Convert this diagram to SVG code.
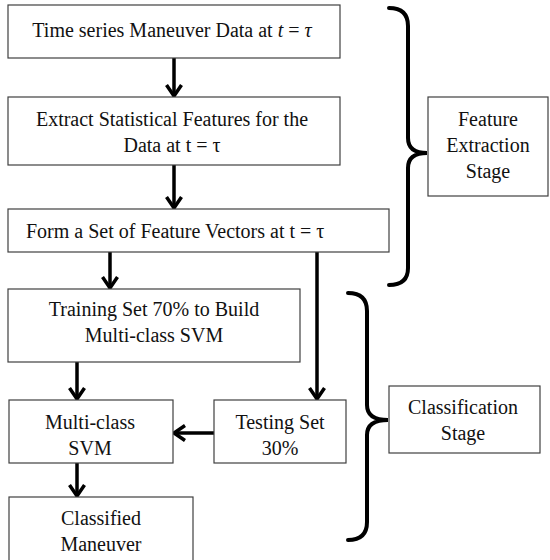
<svg xmlns="http://www.w3.org/2000/svg" width="550" height="560" viewBox="0 0 550 560">
<style>
.box{fill:#fff;stroke:#404040;stroke-width:1.2}
.t{font-family:"Liberation Serif","Times New Roman",serif;font-size:20px;fill:#111;text-anchor:middle}
.c{stroke:#000;stroke-width:3.5;fill:none}
.br{stroke:#000;stroke-width:4;fill:none;stroke-linecap:round}
</style>
<defs>
<marker id="ah" markerUnits="userSpaceOnUse" viewBox="0 0 14 18" refX="12" refY="9" markerWidth="14" markerHeight="18" orient="auto">
<path d="M1,1.5 L12,9 L1,16.5" fill="none" stroke="#000" stroke-width="3.5"/>
</marker>
</defs>
<rect width="550" height="560" fill="#fff"/>
<g id="connectors">
<line class="c" x1="174" y1="58" x2="174" y2="96" marker-end="url(#ah)"/>
<line class="c" x1="174" y1="165" x2="174" y2="208" marker-end="url(#ah)"/>
<line class="c" x1="110" y1="252" x2="110" y2="288" marker-end="url(#ah)"/>
<line class="c" x1="317" y1="252" x2="317" y2="399" marker-end="url(#ah)"/>
<line class="c" x1="77" y1="362" x2="77" y2="399" marker-end="url(#ah)"/>
<line class="c" x1="214" y1="433" x2="174" y2="433" marker-end="url(#ah)"/>
<line class="c" x1="77" y1="463" x2="77" y2="496" marker-end="url(#ah)"/>
</g>
<g id="brace1">
<path class="br" d="M389,8 Q408,8 408,26 L408,138 Q408,153 427,153 Q408,153 408,168 L408,268 Q408,285 389,285"/>
</g>
<g id="brace2">
<path class="br" d="M348,293 Q367,293 367,311 L367,405 Q367,420 388,420 Q367,420 367,435 L367,522 Q367,540 348,540"/>
</g>
<g id="n1">
<rect class="box" x="8" y="5" width="332" height="53"/>
<text class="t" x="172" y="37">Time series Maneuver Data at <tspan font-style="italic">t</tspan> = <tspan font-style="italic">τ</tspan></text>
</g>
<g id="n2">
<rect class="box" x="8" y="97" width="332" height="68"/>
<text class="t" x="172" y="126">Extract Statistical Features for the</text>
<text class="t" x="172" y="152">Data at t = τ</text>
</g>
<g id="n3">
<rect class="box" x="8" y="209" width="381" height="43"/>
<text class="t" x="26" y="238" style="text-anchor:start">Form a Set of Feature Vectors at t = τ</text>
</g>
<g id="n4">
<rect class="box" x="8" y="289" width="292" height="73"/>
<text class="t" x="154" y="316">Training Set 70% to Build</text>
<text class="t" x="154" y="342">Multi-class SVM</text>
</g>
<g id="n5">
<rect class="box" x="9" y="400" width="164" height="63"/>
<text class="t" x="90" y="429">Multi-class</text>
<text class="t" x="90" y="455">SVM</text>
</g>
<g id="n6">
<rect class="box" x="214" y="400" width="132" height="63"/>
<text class="t" x="280" y="429">Testing Set</text>
<text class="t" x="280" y="455">30%</text>
</g>
<g id="n7">
<rect class="box" x="9" y="497" width="184" height="70"/>
<text class="t" x="101" y="525">Classified</text>
<text class="t" x="101" y="551">Maneuver</text>
</g>
<g id="n8">
<rect class="box" x="428" y="97" width="120" height="99"/>
<text class="t" x="488" y="126">Feature</text>
<text class="t" x="488" y="152">Extraction</text>
<text class="t" x="488" y="178">Stage</text>
</g>
<g id="n9">
<rect class="box" x="389" y="386" width="151" height="67"/>
<text class="t" x="463" y="414">Classification</text>
<text class="t" x="463" y="440">Stage</text>
</g>
</svg>
